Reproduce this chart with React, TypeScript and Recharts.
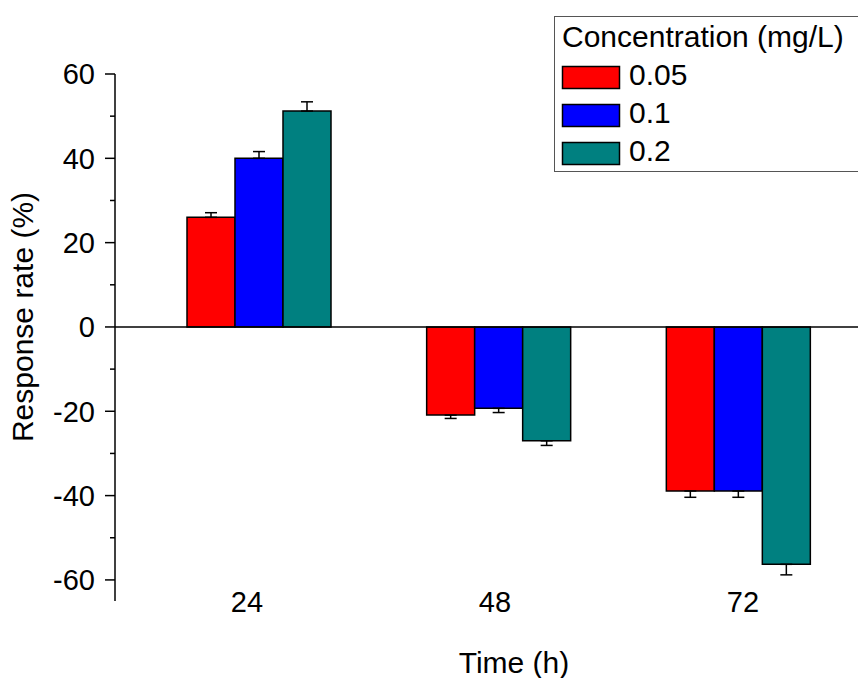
import { BarChart, Bar, XAxis, YAxis, ErrorBar, ReferenceLine, Legend, Label } from "recharts";

// Time points (h)
const times = ["24", "48", "72"];

// Response rate (%) per concentration
const control = [0, 0, 0];
const conc005 = [26.0, -20.9, -38.9];
const conc01 = [40.0, -19.3, -38.9];
const conc02 = [51.2, -27.0, -56.3];

// One-sided error bars (drawn away from zero)
const err005 = [1.1, 0.8, 1.5];
const err01 = [1.6, 1.0, 1.5];
const err02 = [2.2, 1.1, 2.5];

const yTicks = [-60, -50, -40, -30, -20, -10, 0, 10, 20, 30, 40, 50, 60];

const FONT = "Arial, 'Liberation Sans', Helvetica, sans-serif";

const series = [
	{ key: "c005", name: "0.05", color: "#FF0000", values: conc005, errors: err005 },
	{ key: "c01", name: "0.1", color: "#0000FF", values: conc01, errors: err01 },
	{ key: "c02", name: "0.2", color: "#008080", values: conc02, errors: err02 },
];

const oneSided = (v: number, e: number) => (v >= 0 ? [0, e] : [e, 0]);

const data = times.map((time, i) => {
	const row: Record<string, any> = { time, control: control[i] };
	series.forEach((s) => {
		row[s.key] = s.values[i];
		row[s.key + "Err"] = oneSided(s.values[i], s.errors[i]);
	});
	return row;
});

function YTick(props: any) {
	const { x, y, payload } = props;
	const axisX = x + 20;
	const major = payload.value % 20 === 0;
	return (
		<g>
			<line x1={axisX - (major ? 10 : 5)} y1={y} x2={axisX} y2={y} stroke="#000" strokeWidth={1.5} />
			{major && (
				<text x={x} y={y} dy="0.36em" textAnchor="end" fontSize={29} fontFamily={FONT} fill="#000">
					{payload.value}
				</text>
			)}
		</g>
	);
}

function XTick(props: any) {
	const { x, y, payload } = props;
	return (
		<text x={x} y={y + 11} textAnchor="middle" fontSize={29} fontFamily={FONT} fill="#000">
			{payload.value}
		</text>
	);
}

function ConcentrationLegend(props: any) {
	const names = series.map((s) => s.name);
	const items = (props.payload || []).filter((p: any) => names.includes(p.value));
	return (
		<svg width={320} height={160} style={{ display: "block" }}>
			<rect x={0.5} y={0.5} width={330} height={155} fill="#fff" stroke="#555" strokeWidth={1} />
			<text x={8} y={31} fontSize={30} fontFamily={FONT} fill="#000">
				Concentration (mg/L)
			</text>
			{items.map((item: any, i: number) => (
				<g key={item.value}>
					<rect x={8.5} y={50.5 + i * 38} width={57} height={22} fill={item.color} stroke="#000" strokeWidth={1.5} />
					<text x={75} y={69 + i * 38} fontSize={30} fontFamily={FONT} fill="#000">
						{item.value}
					</text>
				</g>
			))}
		</svg>
	);
}

export default function App() {
	return (
		<div
			style={{
				position: "absolute",
				left: 0,
				top: 0,
				width: 858,
				height: 678,
				overflow: "hidden",
				background: "#fff",
			}}
		>
			<BarChart
				width={900}
				height={678}
				data={data}
				margin={{ top: 74, right: 20, bottom: 47, left: 0 }}
				barGap={0}
				barSize={48}
			>
				<XAxis xAxisId="bars" dataKey="time" hide height={0} padding={{ left: 0, right: 46 }} />
				<XAxis
					xAxisId="time"
					dataKey="time"
					height={30}
					axisLine={false}
					tickLine={false}
					tickSize={0}
					tickMargin={0}
					padding={{ left: 8, right: 13 }}
					tick={<XTick />}
					interval={0}
				>
					<Label
						content={() => (
							<text x={514} y={673} textAnchor="middle" fontSize={30} fontFamily={FONT} fill="#000">
								Time (h)
							</text>
						)}
					/>
				</XAxis>
				<YAxis
					type="number"
					domain={[-65, 60]}
					ticks={yTicks}
					interval={0}
					width={115}
					tickSize={10}
					tickMargin={10}
					tickLine={false}
					axisLine={{ stroke: "#000", strokeWidth: 1.5 }}
					tick={<YTick />}
				>
					<Label
						content={() => (
							<text
								x={33}
								y={317}
								transform="rotate(-90 33 317)"
								textAnchor="middle"
								fontSize={30}
								fontFamily={FONT}
								fill="#000"
							>
								Response rate (%)
							</text>
						)}
					/>
				</YAxis>
				<Bar xAxisId="bars" dataKey="control" name="0" fill="#fff" stroke="#000" legendType="none" isAnimationActive={false} />
				{series.map((s) => (
					<Bar
						key={s.key}
						xAxisId="bars"
						dataKey={s.key}
						name={s.name}
						fill={s.color}
						stroke="#000"
						strokeWidth={1.5}
						isAnimationActive={false}
					>
						<ErrorBar dataKey={s.key + "Err"} direction="y" width={6} stroke="#000" strokeWidth={1.5} />
					</Bar>
				))}
				<ReferenceLine xAxisId="time" y={0} stroke="#000" strokeWidth={1.5} />
				<Legend
					layout="vertical"
					align="center"
					verticalAlign="middle"
					wrapperStyle={{ left: 554, top: 16, width: 320, height: 160 }}
					content={<ConcentrationLegend />}
				/>
			</BarChart>
		</div>
	);
}
